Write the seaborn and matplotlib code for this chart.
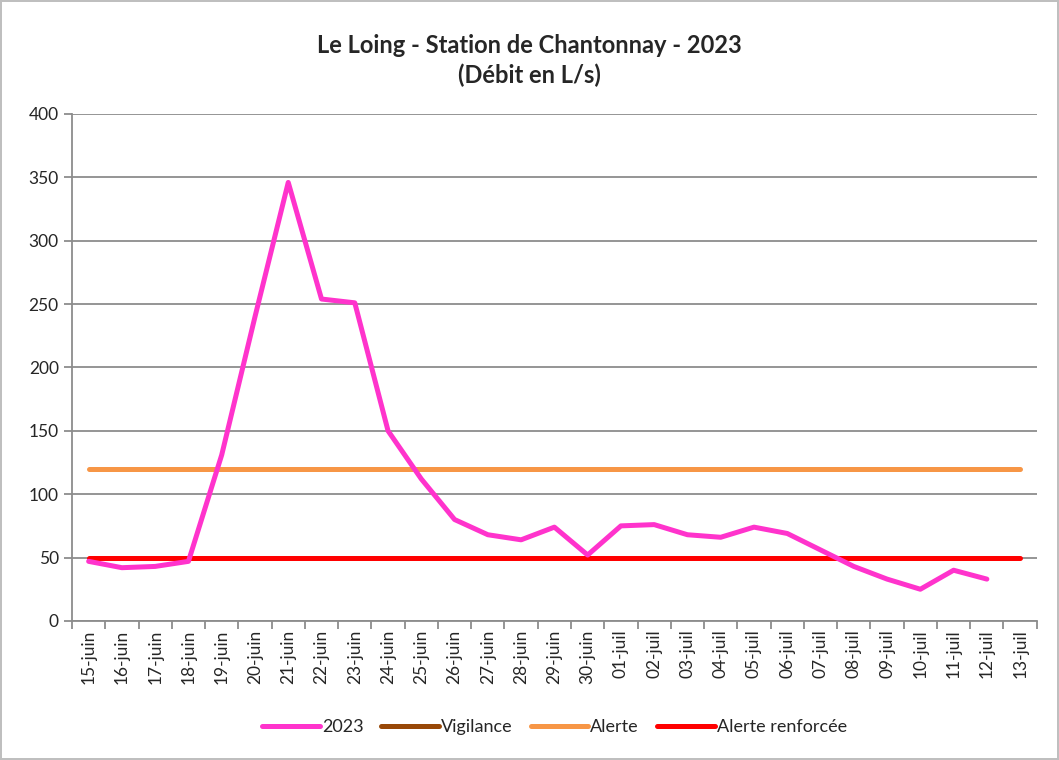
import numpy as np
import pandas as pd
import matplotlib
matplotlib.use("Agg")
import matplotlib.pyplot as plt
import seaborn as sns
from matplotlib.ticker import FixedLocator

# Data
days = ["15-juin", "16-juin", "17-juin", "18-juin", "19-juin", "20-juin", "21-juin",
        "22-juin", "23-juin", "24-juin", "25-juin", "26-juin", "27-juin", "28-juin",
        "29-juin", "30-juin", "01-juil", "02-juil", "03-juil", "04-juil", "05-juil",
        "06-juil", "07-juil", "08-juil", "09-juil", "10-juil", "11-juil", "12-juil",
        "13-juil"]
debit_2023 = [47, 42, 43, 47, 131, 240, 346, 254, 251, 150, 112, 80, 68, 64, 74,
              52, 75, 76, 68, 66, 74, 69, 56, 43, 33, 25, 40, 33, np.nan]
vigilance = [np.nan] * len(days)
alerte = [120] * len(days)
alerte_renforcee = [50] * len(days)

df = pd.DataFrame({"jour": days, "pos": np.arange(len(days)), "2023": debit_2023,
                   "Vigilance": vigilance, "Alerte": alerte,
                   "Alerte renforcée": alerte_renforcee})

sns.set_theme(style="white")
plt.rcParams["font.family"] = ["Lato", "DejaVu Sans"]

fig = plt.figure(figsize=(10.59, 7.60), dpi=100)
ax = fig.add_axes([0.068, 0.183, 0.911, 0.667])

# Reference lines first, then the measured series on top
ax.plot(df["pos"], df["Vigilance"], color="#984807", lw=3.6, label="Vigilance")
sns.lineplot(data=df, x="pos", y="Alerte", color="#F79646", lw=3.6, ax=ax, label="Alerte")
sns.lineplot(data=df, x="pos", y="Alerte renforcée", color="#FF0000", lw=3.6, ax=ax,
             label="Alerte renforcée")
sns.lineplot(data=df, x="pos", y="2023", color="#FF33CC", lw=3.6, ax=ax, label="2023")

ax.set_xlim(-0.5, len(days) - 0.5)
ax.set_ylim(0, 400)
ax.set_yticks(range(0, 401, 50))
ax.yaxis.grid(True, color="#8c8c8c", lw=1.3)
ax.xaxis.grid(False)

ax.set_xticks(df["pos"])
ax.set_xticklabels(days, rotation=90, fontsize=12.5)
ax.tick_params(axis="x", which="major", length=0, pad=6)
ax.xaxis.set_minor_locator(FixedLocator(np.arange(-0.5, len(days), 1)))
ax.tick_params(axis="x", which="minor", bottom=True, length=6, width=1.3, color="#8c8c8c")
ax.tick_params(axis="y", left=True, length=6, width=1.3, color="#8c8c8c", labelsize=12.5)

for s in ["top", "right"]:
    ax.spines[s].set_visible(False)
for s in ["left", "bottom"]:
    ax.spines[s].set_color("#8c8c8c")
    ax.spines[s].set_linewidth(1.3)

ax.set_xlabel("")
ax.set_ylabel("")

# Legend in the reference order
handles, labels = ax.get_legend_handles_labels()
order = ["2023", "Vigilance", "Alerte", "Alerte renforcée"]
hmap = dict(zip(labels, handles))
ax.legend([hmap[k] for k in order], order, loc="center", bbox_to_anchor=(0.5, -0.21),
          ncol=4, frameon=False, fontsize=13, handlelength=3.2, handletextpad=0.1,
          columnspacing=1.0)

fig.suptitle("Le Loing - Station de Chantonnay - 2023\n(Débit en L/s)",
             fontsize=17, fontweight="bold", y=0.955, linespacing=1.3)

fig.patch.set_edgecolor("#bfbfbf")
fig.patch.set_linewidth(1.5)

fig.savefig("out.png", dpi=100, edgecolor=fig.get_edgecolor())
